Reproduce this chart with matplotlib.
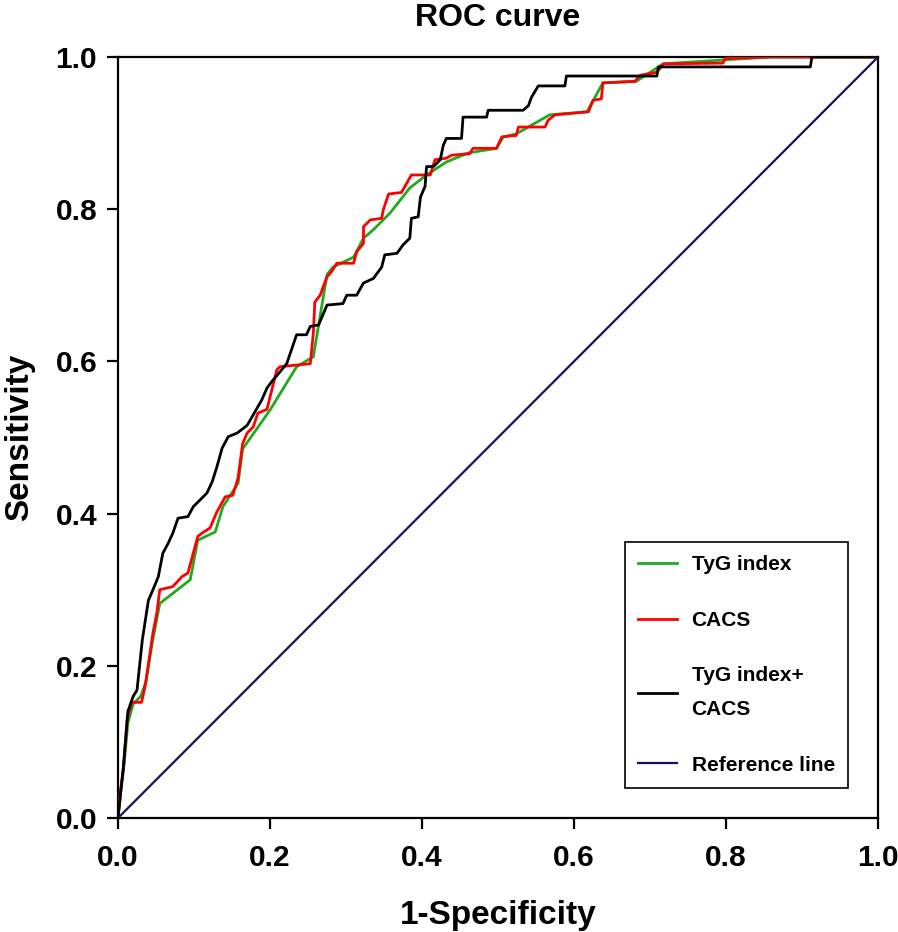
import matplotlib
matplotlib.use("Agg")
import matplotlib.pyplot as plt

plt.rcParams['font.family'] = ['Liberation Sans', 'DejaVu Sans']
plt.rcParams['font.weight'] = 'bold'

# TyG index ROC curve (1-specificity, sensitivity)
tyg_x = [0, 0.003, 0.008, 0.013, 0.02, 0.03, 0.037, 0.045, 0.055, 0.095, 0.105, 0.128, 0.138,
         0.158, 0.164, 0.2, 0.235, 0.257, 0.275, 0.283, 0.31, 0.323, 0.336, 0.358, 0.384, 0.406,
         0.432, 0.461, 0.498, 0.507, 0.524, 0.568, 0.617, 0.638, 0.682, 0.717, 0.858, 1.0]
tyg_y = [0, 0.03, 0.07, 0.125, 0.15, 0.16, 0.18, 0.23, 0.282, 0.313, 0.365, 0.376, 0.409,
         0.44, 0.485, 0.536, 0.593, 0.606, 0.714, 0.724, 0.737, 0.762, 0.773, 0.795, 0.828, 0.845,
         0.862, 0.874, 0.880, 0.895, 0.899, 0.924, 0.928, 0.966, 0.968, 0.991, 1.0, 1.0]

# CACS ROC curve
cacs_x = [0, 0.003, 0.007, 0.012, 0.018, 0.031, 0.036, 0.042, 0.046, 0.051, 0.055, 0.072, 0.084,
          0.092, 0.105, 0.110, 0.121, 0.130, 0.141, 0.151, 0.158, 0.164, 0.170, 0.178, 0.184,
          0.196, 0.209, 0.213, 0.253, 0.257, 0.259, 0.266, 0.270, 0.275, 0.281, 0.288, 0.310,
          0.314, 0.323, 0.323, 0.332, 0.347, 0.349, 0.356, 0.373, 0.386, 0.411, 0.417, 0.432,
          0.439, 0.463, 0.467, 0.498, 0.505, 0.524, 0.527, 0.562, 0.566, 0.575, 0.619, 0.625,
          0.636, 0.638, 0.680, 0.687, 0.709, 0.718, 0.796, 0.799, 0.860, 1.0]
cacs_y = [0, 0.034, 0.063, 0.129, 0.152, 0.152, 0.175, 0.216, 0.243, 0.269, 0.300, 0.304, 0.317,
          0.322, 0.370, 0.374, 0.381, 0.402, 0.422, 0.424, 0.447, 0.492, 0.506, 0.514, 0.532,
          0.537, 0.589, 0.593, 0.597, 0.637, 0.678, 0.687, 0.698, 0.711, 0.718, 0.729, 0.729,
          0.744, 0.755, 0.777, 0.786, 0.788, 0.799, 0.820, 0.822, 0.845, 0.845, 0.865, 0.867,
          0.871, 0.873, 0.880, 0.880, 0.895, 0.897, 0.908, 0.908, 0.917, 0.924, 0.928, 0.943,
          0.945, 0.966, 0.968, 0.976, 0.980, 0.991, 0.992, 0.998, 1.0, 1.0]

# TyG index + CACS ROC curve
comb_x = [0, 0.003, 0.007, 0.013, 0.02, 0.025, 0.032, 0.036, 0.04, 0.046, 0.053, 0.059, 0.066,
          0.072, 0.079, 0.092, 0.099, 0.108, 0.117, 0.124, 0.130, 0.137, 0.145, 0.157, 0.170,
          0.178, 0.189, 0.196, 0.202, 0.222, 0.235, 0.248, 0.253, 0.264, 0.275, 0.296, 0.301,
          0.314, 0.323, 0.336, 0.347, 0.351, 0.367, 0.375, 0.384, 0.386, 0.395, 0.398, 0.404,
          0.406, 0.415, 0.424, 0.428, 0.432, 0.452, 0.454, 0.485, 0.487, 0.533, 0.540, 0.544,
          0.553, 0.588, 0.590, 0.709, 0.711, 0.911, 0.913, 1.0]
comb_y = [0, 0.028, 0.067, 0.14, 0.16, 0.168, 0.234, 0.26, 0.286, 0.30, 0.317, 0.348, 0.361,
          0.374, 0.394, 0.396, 0.409, 0.418, 0.427, 0.442, 0.461, 0.486, 0.501, 0.506, 0.516,
          0.53, 0.549, 0.565, 0.573, 0.597, 0.635, 0.635, 0.646, 0.648, 0.674, 0.676, 0.687,
          0.687, 0.703, 0.709, 0.724, 0.740, 0.742, 0.753, 0.762, 0.788, 0.790, 0.816, 0.830,
          0.856, 0.856, 0.865, 0.884, 0.893, 0.893, 0.921, 0.921, 0.930, 0.930, 0.936, 0.947,
          0.962, 0.962, 0.975, 0.975, 0.987, 0.987, 1.0, 1.0]

ref_x = [0, 1]
ref_y = [0, 1]

labels = ["TyG index", "CACS", "TyG index+\nCACS", "Reference line"]
ticks = [0.0, 0.2, 0.4, 0.6, 0.8, 1.0]

fig = plt.figure(figsize=(8.98, 9.32), dpi=100)
ax = fig.add_axes([118/898, 1 - 818/932, 760/898, 761/932])

ax.plot(ref_x, ref_y, color='#12125e', lw=1.6, label=labels[3], zorder=2)
ax.plot(tyg_x, tyg_y, color='#1faa1f', lw=2.0, label=labels[0], zorder=3)
ax.plot(cacs_x, cacs_y, color='#ff0000', lw=2.0, label=labels[1], zorder=4)
ax.plot(comb_x, comb_y, color='#000000', lw=2.0, label=labels[2], zorder=5)

ax.set_xlim(0, 1)
ax.set_ylim(0, 1)
ax.set_xticks(ticks)
ax.set_yticks(ticks)
ax.set_xticklabels([f"{t:.1f}" for t in ticks])
ax.set_yticklabels([f"{t:.1f}" for t in ticks])
ax.tick_params(axis='both', direction='out', length=8, width=1.6, labelsize=21.5)
ax.tick_params(axis='x', pad=11)
ax.tick_params(axis='y', pad=7)
for lab in ax.get_xticklabels() + ax.get_yticklabels():
    lab.set_fontweight('bold')
for sp in ax.spines.values():
    sp.set_linewidth(1.6)
    sp.set_color('black')

ax.set_xlabel("1-Specificity", fontsize=24, fontweight='bold', labelpad=20)
ax.set_ylabel("Sensitivity", fontsize=24, fontweight='bold', labelpad=15)
ax.set_title("ROC curve", fontsize=23, fontweight='bold', pad=22)

handles, hl = ax.get_legend_handles_labels()
order = [hl.index(l) for l in labels]
leg = ax.legend([handles[i] for i in order], [hl[i] for i in order],
                loc='lower right', bbox_to_anchor=(0.961, 0.039), borderaxespad=0,
                frameon=True, fancybox=False, edgecolor='black', framealpha=1,
                prop={'size': 15, 'weight': 'bold'}, labelspacing=1.75,
                handlelength=1.85, handletextpad=0.7, borderpad=0.65)
leg.get_frame().set_linewidth(1.2)
for t in leg.get_texts():
    t.set_linespacing(2.0)

fig.savefig("out.png", dpi=100)
